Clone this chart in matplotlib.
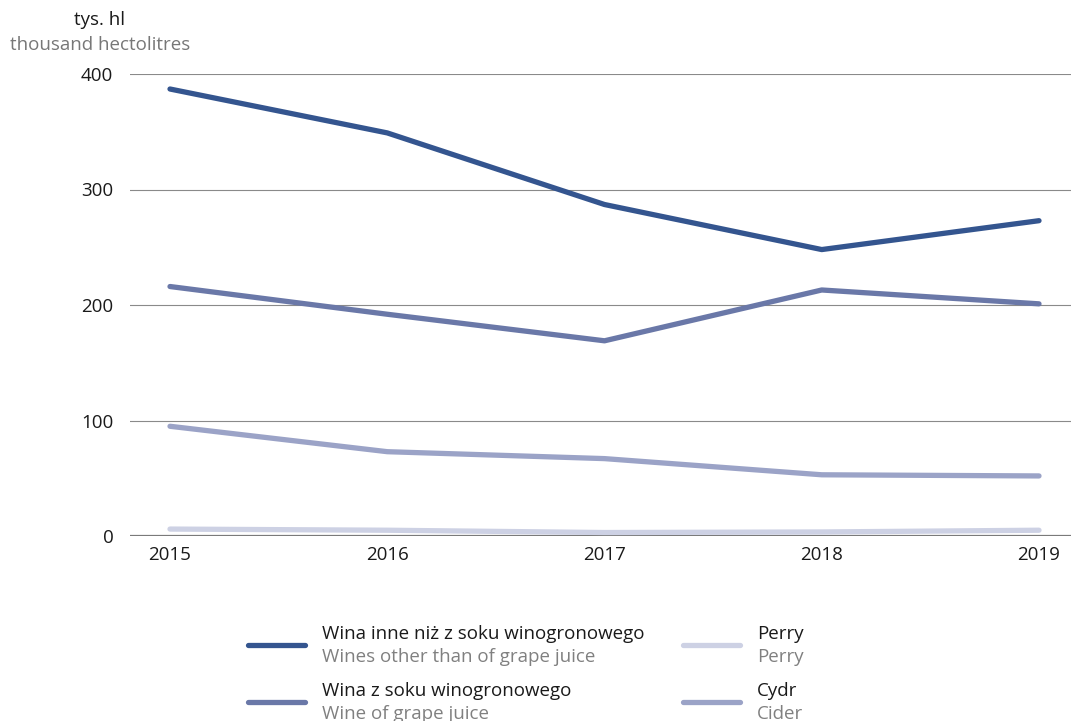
import matplotlib.pyplot as plt
from matplotlib.lines import Line2D

# ----------------------------
# Data
# ----------------------------
years = [2015, 2016, 2017, 2018, 2019]

wines_other = [387, 349, 287, 248, 273]
wine_grape = [216, 192, 169, 213, 201]
cider = [95, 73, 67, 53, 52]
perry = [6, 5, 3, 3.5, 5]

labels_pl = ['Wina inne niż z soku winogronowego', 'Wina z soku winogronowego', 'Perry', 'Cydr']
labels_en = ['Wines other than of grape juice', 'Wine of grape juice', 'Perry', 'Cider']
colors = ['#34558f', '#6a78a8', '#cdd1e4', '#9ba3c7']
series = [wines_other, wine_grape, perry, cider]

plt.rcParams['font.family'] = ['Open Sans', 'DejaVu Sans']
FS = 13.5

W, H = 1071, 721
fig = plt.figure(figsize=(W / 100, H / 100), dpi=100)
ax = fig.add_axes([130 / W, 1 - 536 / H, (1071 - 130) / W, (536 - 74) / H])

for ys, c in zip(series, colors):
    ax.plot(years, ys, color=c, lw=3.8, solid_capstyle='round', zorder=3)

ax.set_xlim(2015 - 40 / 217.25, 2019 + 32 / 217.25)
ax.set_ylim(0, 400)
ax.set_yticks([0, 100, 200, 300, 400])
ax.set_xticks(years)
ax.grid(axis='y', color='#8a8a8a', lw=0.8)
ax.axhline(0, color='#7a7a7a', lw=1.6, zorder=2)
for s in ax.spines.values():
    s.set_visible(False)
ax.tick_params(axis='both', length=0, labelsize=FS, colors='#1a1a1a')
ax.tick_params(axis='y', pad=12)
ax.tick_params(axis='x', pad=7)

# unit label
fig.text(100 / W, 1 - 20 / H, 'tys. hl', ha='center', va='center', fontsize=FS, color='#1a1a1a')
fig.text(100 / W, 1 - 45 / H, 'thousand hectolitres', ha='center', va='center', fontsize=FS, color='#777777')

# ----------------------------
# Legend (manual, two-line labels)
# ----------------------------
pos = [(248, 645), (248, 702), (683, 645), (683, 702)]
for (px, py), c, lp, le in zip(pos, colors, labels_pl, labels_en):
    fig.add_artist(Line2D([px / W, (px + 57) / W], [1 - py / H, 1 - py / H],
                          color=c, lw=3.8, solid_capstyle='round'))
    fig.text((px + 74) / W, 1 - (py - 11) / H, lp, ha='left', va='center',
             fontsize=FS, color='#1a1a1a')
    fig.text((px + 74) / W, 1 - (py + 12) / H, le, ha='left', va='center',
             fontsize=FS, color='#808080')

fig.savefig('out.png', dpi=100)
